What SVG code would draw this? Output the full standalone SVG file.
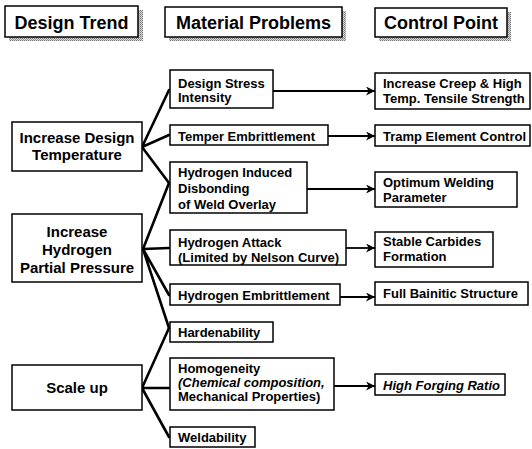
<svg xmlns="http://www.w3.org/2000/svg" width="532" height="449" viewBox="0 0 532 449">
<defs>
<pattern id="ht" width="2" height="2" patternUnits="userSpaceOnUse">
<rect width="2" height="2" fill="#d8d8d8"/>
<rect width="1" height="1" fill="#777"/>
<rect x="1" y="1" width="1" height="1" fill="#999"/>
</pattern>
<marker id="ah" viewBox="0 0 10 10" refX="10" refY="5" markerWidth="10" markerHeight="9" markerUnits="userSpaceOnUse" orient="auto">
<path d="M0,0 L10,5 L0,10 L3,5 Z" fill="#000"/>
</marker>
</defs>
<style>
.box{fill:#fff;stroke:#000;stroke-width:1.5}
.sh{fill:url(#ht)}
text{font-family:"Liberation Sans",Arial,sans-serif;font-weight:bold;fill:#000}
.h{font-size:18px;text-anchor:middle}
.l{font-size:15px;text-anchor:middle}
.m{font-size:13px}
.it{font-style:italic}
.fan{stroke:#000;stroke-width:2.6;fill:none;stroke-linecap:round}
.arr{stroke:#000;stroke-width:1.8;fill:none;marker-end:url(#ah)}
</style>
<rect width="532" height="449" fill="#fff"/>

<g id="hdr-design-trend">
<rect class="sh" x="9" y="10" width="134" height="31"/>
<rect class="box" x="5" y="6" width="133" height="31"/>
<text class="h" x="71.5" y="29">Design Trend</text>
</g>
<g id="hdr-material-problems">
<rect class="sh" x="169" y="11" width="177" height="30"/>
<rect class="box" x="165" y="7" width="177" height="30"/>
<text class="h" x="253.5" y="29">Material Problems</text>
</g>
<g id="hdr-control-point">
<rect class="sh" x="379" y="12" width="132" height="29"/>
<rect class="box" x="375" y="8" width="132" height="29"/>
<text class="h" x="441" y="29">Control Point</text>
</g>

<g id="connectors">
<path class="fan" d="M142,147 L169,90 M142,147 L169,135 M142,147 L169,183"/>
<path class="fan" d="M143,249 L169,183 M143,249 L169,248 M143,249 L169,295 M143,249 L169,328"/>
<path class="fan" d="M142,388 L169,328 M142,388 L169,388 M142,388 L169,437"/>
<line class="arr" x1="273" y1="91" x2="375" y2="91"/>
<line class="arr" x1="328" y1="136" x2="375" y2="136"/>
<line class="arr" x1="307" y1="189" x2="375" y2="189"/>
<line class="arr" x1="346" y1="248" x2="375" y2="248"/>
<line class="arr" x1="340" y1="297" x2="375" y2="297"/>
<line class="arr" x1="334" y1="386" x2="375" y2="386"/>
</g>

<g id="increase-design-temperature">
<rect class="box" x="12" y="122" width="130" height="49"/>
<text class="l" x="77" y="143">Increase Design</text>
<text class="l" x="77" y="160">Temperature</text>
</g>
<g id="increase-hydrogen-partial-pressure">
<rect class="box" x="12" y="214" width="130" height="68"/>
<text class="l" x="77" y="237">Increase</text>
<text class="l" x="77" y="255">Hydrogen</text>
<text class="l" x="77" y="273">Partial Pressure</text>
</g>
<g id="scale-up">
<rect class="box" x="12" y="365" width="130" height="45"/>
<text class="l" x="77" y="393">Scale up</text>
</g>

<g id="design-stress-intensity">
<rect class="box" x="170" y="70" width="103" height="38"/>
<text class="m" x="178" y="87.5">Design Stress</text>
<text class="m" x="178" y="102">Intensity</text>
</g>
<g id="temper-embrittlement">
<rect class="box" x="170" y="125" width="158" height="20"/>
<text class="m" x="178" y="141">Temper Embrittlement</text>
</g>
<g id="hydrogen-induced-disbonding">
<rect class="box" x="170" y="162" width="137" height="51"/>
<text class="m" x="178" y="177">Hydrogen Induced</text>
<text class="m" x="178" y="193">Disbonding</text>
<text class="m" x="178" y="209">of Weld Overlay</text>
</g>
<g id="hydrogen-attack">
<rect class="box" x="170" y="230" width="176" height="35"/>
<text class="m" x="178" y="247">Hydrogen Attack</text>
<text class="m" x="178" y="262">(Limited by Nelson Curve)</text>
</g>
<g id="hydrogen-embrittlement">
<rect class="box" x="170" y="284" width="170" height="21"/>
<text class="m" x="178" y="300">Hydrogen Embrittlement</text>
</g>
<g id="hardenability">
<rect class="box" x="170" y="322" width="103" height="20"/>
<text class="m" x="178" y="337">Hardenability</text>
</g>
<g id="homogeneity">
<rect class="box" x="170" y="358" width="164" height="52"/>
<text class="m" x="178" y="373">Homogeneity</text>
<text class="m it" x="178" y="387">(Chemical composition,</text>
<text class="m" x="178" y="401">Mechanical Properties)</text>
</g>
<g id="weldability">
<rect class="box" x="170" y="427" width="85" height="20"/>
<text class="m" x="178" y="442">Weldability</text>
</g>

<g id="increase-creep">
<rect class="box" x="375" y="73" width="155" height="36"/>
<text class="m" x="383" y="88">Increase Creep &amp; High</text>
<text class="m" x="383" y="102.5">Temp. Tensile Strength</text>
</g>
<g id="tramp-element-control">
<rect class="box" x="375" y="125" width="155" height="21"/>
<text class="m" x="383" y="141">Tramp Element Control</text>
</g>
<g id="optimum-welding-parameter">
<rect class="box" x="375" y="172" width="142" height="35"/>
<text class="m" x="383" y="187">Optimum Welding</text>
<text class="m" x="383" y="202">Parameter</text>
</g>
<g id="stable-carbides-formation">
<rect class="box" x="375" y="232" width="118" height="35"/>
<text class="m" x="383" y="246">Stable Carbides</text>
<text class="m" x="383" y="261">Formation</text>
</g>
<g id="full-bainitic-structure">
<rect class="box" x="375" y="282" width="153" height="23"/>
<text class="m" x="383" y="298">Full Bainitic Structure</text>
</g>
<g id="high-forging-ratio">
<rect class="box" x="375" y="374" width="130" height="21"/>
<text class="m it" x="383" y="390">High Forging Ratio</text>
</g>
</svg>
